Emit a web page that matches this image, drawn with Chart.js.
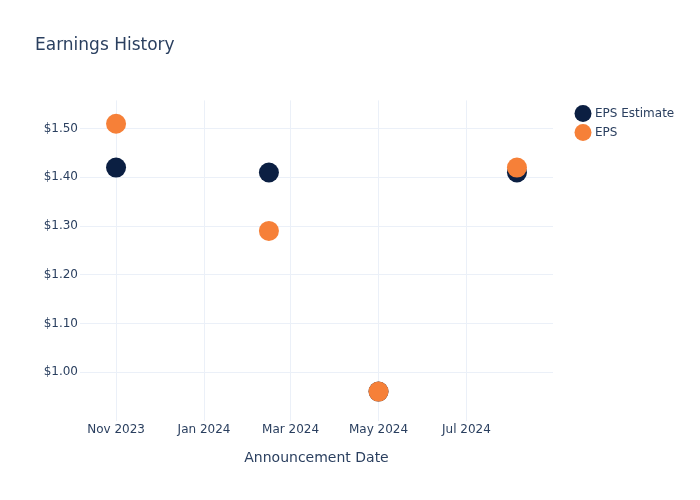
<!DOCTYPE html>
<html>
<head>
<meta charset="utf-8">
<script src="https://cdn.jsdelivr.net/npm/chart.js@4"></script>
<style>
  html, body { margin: 0; padding: 0; background: #fff; }
  #wrap { width: 700px; height: 500px; }
</style>
</head>
<body>
<div id="wrap"><canvas id="EarningsChart"></canvas></div>
<script>
// announcement dates and EPS values
const announceDates = ['2023-11-01', '2024-02-15', '2024-05-01', '2024-08-05'];
const epsEstimate = [1.42, 1.41, 0.96, 1.41];
const epsActual = [1.51, 1.29, 0.96, 1.42];

const xTickDates = ['2023-11-01', '2024-01-01', '2024-03-01', '2024-05-01', '2024-07-01'];
const xTickLabels = ['Nov 2023', 'Jan 2024', 'Mar 2024', 'May 2024', 'Jul 2024'];
const yTickValues = [1.0, 1.1, 1.2, 1.3, 1.4, 1.5];

const xRange = ['2023-10-07', '2024-08-30'];
const yRange = [0.9, 1.558];

const textColor = '#2a3f5f';
const gridColor = '#ebf0f8';

Chart.defaults.font.family = '"DejaVu Sans", verdana, arial, sans-serif';
Chart.defaults.color = textColor;

const toPoints = (values) => values.map((v, i) => ({ x: Date.parse(announceDates[i]), y: v }));

const chartData = {
  datasets: [
    {
      label: 'EPS Estimate',
      data: toPoints(epsEstimate),
      backgroundColor: '#0b1f42',
      borderWidth: 0,
      pointRadius: 10,
      order: 1,
    },
    {
      label: 'EPS',
      data: toPoints(epsActual),
      backgroundColor: '#f68038',
      borderWidth: 0,
      pointRadius: 10,
      order: 0,
    },
  ],
};

const chartConfig = {
  type: 'scatter',
  data: chartData,
  options: {
    responsive: true,
    maintainAspectRatio: false,
    animation: false,
    layout: {
      padding: { left: 35, right: 23, top: 0, bottom: 29 },
    },
    plugins: {
      title: {
        display: true,
        text: 'Earnings History',
        align: 'start',
        color: textColor,
        font: { size: 17, weight: 'normal' },
        padding: { top: 35, bottom: 45 },
      },
      legend: {
        position: 'right',
        align: 'start',
        fullSize: false,
        labels: {
          usePointStyle: true,
          pointStyle: 'circle',
          color: textColor,
          font: { size: 12 },
          padding: 7,
          sort: (a, b) => a.datasetIndex - b.datasetIndex,
        },
      },
      tooltip: { enabled: false },
    },
    scales: {
      x: {
        type: 'linear',
        min: Date.parse(xRange[0]),
        max: Date.parse(xRange[1]),
        afterBuildTicks: (scale) => {
          scale.ticks = xTickDates.map((d) => ({ value: Date.parse(d) }));
        },
        ticks: {
          autoSkip: false,
          maxRotation: 0,
          padding: 2,
          font: { size: 12 },
          color: textColor,
          callback: (value) => {
            const idx = xTickDates.findIndex((d) => Date.parse(d) === value);
            return idx >= 0 ? xTickLabels[idx] : '';
          },
        },
        grid: { color: gridColor, drawTicks: false },
        border: { display: false },
        title: {
          display: true,
          text: 'Announcement Date',
          color: textColor,
          font: { size: 14 },
          padding: { top: 11, bottom: 4 },
        },
      },
      y: {
        min: yRange[0],
        max: yRange[1],
        afterBuildTicks: (scale) => {
          scale.ticks = yTickValues.map((v) => ({ value: v }));
        },
        afterFit: (scale) => {
          scale.width = 45;
        },
        ticks: {
          padding: 2,
          font: { size: 12 },
          color: textColor,
          callback: (value) => '$' + value.toFixed(2),
        },
        grid: { color: gridColor, drawTicks: false },
        border: { display: false },
      },
      // empty axis that only keeps a gap between the plot and the legend
      gap: {
        position: 'right',
        grid: { display: false },
        border: { display: false },
        ticks: { display: false },
        afterFit: (scale) => {
          scale.width = 17;
        },
      },
    },
  },
};

const ctx = document.getElementById('EarningsChart');
new Chart(ctx, chartConfig);
</script>
</body>
</html>
